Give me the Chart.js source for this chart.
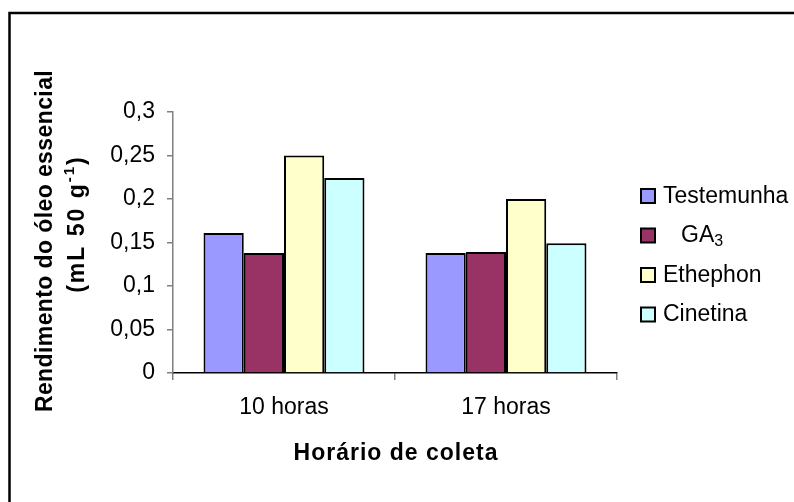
<!DOCTYPE html>
<html>
<head>
<meta charset="utf-8">
<script src="https://cdn.jsdelivr.net/npm/chart.js@4/dist/chart.umd.min.js"></script>
<style>
  html, body { margin: 0; padding: 0; background: #fff; }
  canvas { display: block; }
</style>
</head>
<body>
<canvas id="myChart" width="794" height="502"></canvas>
<script>
// data
const horarios = ['10 horas', '17 horas'];
const seriesNames = ['Testemunha', '  GA₃', 'Ethephon', 'Cinetina'];
const testemunha = [0.161, 0.138];
const ga3 = [0.138, 0.139];
const ethephon = [0.25, 0.2];
const cinetina = [0.224, 0.149];
const yTicks = [0, 0.05, 0.1, 0.15, 0.2, 0.25, 0.3];

const colors = ['#9999FF', '#993366', '#FFFFCC', '#CCFFFF'];
const FONT = '"Liberation Sans", Arial, sans-serif';

Chart.defaults.font.family = FONT;
Chart.defaults.color = '#000';

const ctx = document.getElementById('myChart').getContext('2d');

// draws text with a subscript / superscript part, centred on x
function drawParts(c, parts, x, y) {
    let total = 0;
    parts.forEach(p => { c.font = p.font; total += c.measureText(p.text).width; });
    let cx = x - total / 2;
    c.textAlign = 'left';
    parts.forEach(p => {
        c.font = p.font;
        c.fillText(p.text, cx, y + (p.dy || 0));
        cx += c.measureText(p.text).width;
    });
}

const decor = {
    id: 'decor',
    afterDraw(chart) {
        const c = chart.ctx;
        c.save();
        c.fillStyle = '#000';

        // frame (left + top only, the rest is cut off)
        c.strokeStyle = '#000';
        c.lineWidth = 2.5;
        c.beginPath();
        c.moveTo(9.5, 502);
        c.lineTo(9.5, 13);
        c.lineTo(794, 13);
        c.stroke();

        // legend
        chart.data.datasets.forEach((ds, i) => {
            const yc = 196 + i * 39.5;
            c.fillStyle = ds.backgroundColor;
            c.fillRect(641, yc - 7, 14, 14);
            c.lineWidth = 2;
            c.strokeStyle = '#000';
            c.strokeRect(641, yc - 7, 14, 14);
            c.fillStyle = '#000';
            c.textBaseline = 'alphabetic';
            c.textAlign = 'left';
            const label = ds.label;
            c.font = '23px ' + FONT;
            if (label.includes('₃')) {
                const main = label.replace('₃', '').trim();
                c.fillText(main, 681, yc + 6.5);
                const w = c.measureText(main).width;
                c.font = '16px ' + FONT;
                c.fillText('3', 681 + w, yc + 10);
            } else {
                c.fillText(label, 663, yc + 6.5);
            }
        });

        // x axis title
        c.letterSpacing = '1px';
        c.textAlign = 'center';
        c.textBaseline = 'alphabetic';
        c.font = 'bold 23px ' + FONT;
        c.fillText('Horário de coleta', 396, 460);

        // y axis title, two lines rotated
        c.letterSpacing = '0.4px';
        c.save();
        c.translate(52, 241);
        c.rotate(-Math.PI / 2);
        c.font = 'bold 23px ' + FONT;
        c.fillText('Rendimento do óleo essencial', 0, 0);
        c.restore();

        c.letterSpacing = '2px';
        c.save();
        c.translate(84, 224);
        c.rotate(-Math.PI / 2);
        drawParts(c, [
            { text: '(mL 50 g', font: 'bold 23px ' + FONT },
            { text: '-1', font: 'bold 15px ' + FONT, dy: -10 },
            { text: ')', font: 'bold 23px ' + FONT }
        ], 0, 0);
        c.restore();

        c.restore();
    }
};

new Chart(ctx, {
    type: 'bar',
    data: {
        labels: horarios,
        datasets: [testemunha, ga3, ethephon, cinetina].map((values, i) => ({
            label: seriesNames[i],
            data: values,
            backgroundColor: colors[i],
            borderColor: '#000',
            borderWidth: 2,
            borderSkipped: 'bottom',
            barPercentage: 1,
            categoryPercentage: 0.725
        }))
    },
    options: {
        responsive: false,
        animation: false,
        devicePixelRatio: 1,
        layout: { padding: { left: 0, right: 177, top: 112, bottom: 0 } },
        plugins: {
            legend: { display: false },
            tooltip: { enabled: false }
        },
        scales: {
            x: {
                afterFit(scale) { scale.height = 129; },
                grid: {
                    offset: true,
                    drawOnChartArea: false,
                    drawTicks: true,
                    tickLength: 7,
                    color: '#808080',
                    lineWidth: 1.5
                },
                border: { color: '#000', width: 1.5 },
                ticks: {
                    font: { size: 23 },
                    color: '#000',
                    padding: 14
                }
            },
            y: {
                min: 0,
                max: 0.3,
                afterFit(scale) { scale.width = 173; },
                afterBuildTicks(scale) {
                    scale.ticks = yTicks.map(v => ({ value: v }));
                },
                grid: {
                    drawOnChartArea: false,
                    drawTicks: true,
                    tickLength: 6,
                    color: '#808080',
                    lineWidth: 1.5
                },
                border: { color: '#808080', width: 1.5 },
                ticks: {
                    font: { size: 23 },
                    color: '#000',
                    padding: 12,
                    callback(value) {
                        return String(Number(value.toFixed(2))).replace('.', ',');
                    }
                }
            }
        }
    },
    plugins: [decor]
});
</script>
</body>
</html>
